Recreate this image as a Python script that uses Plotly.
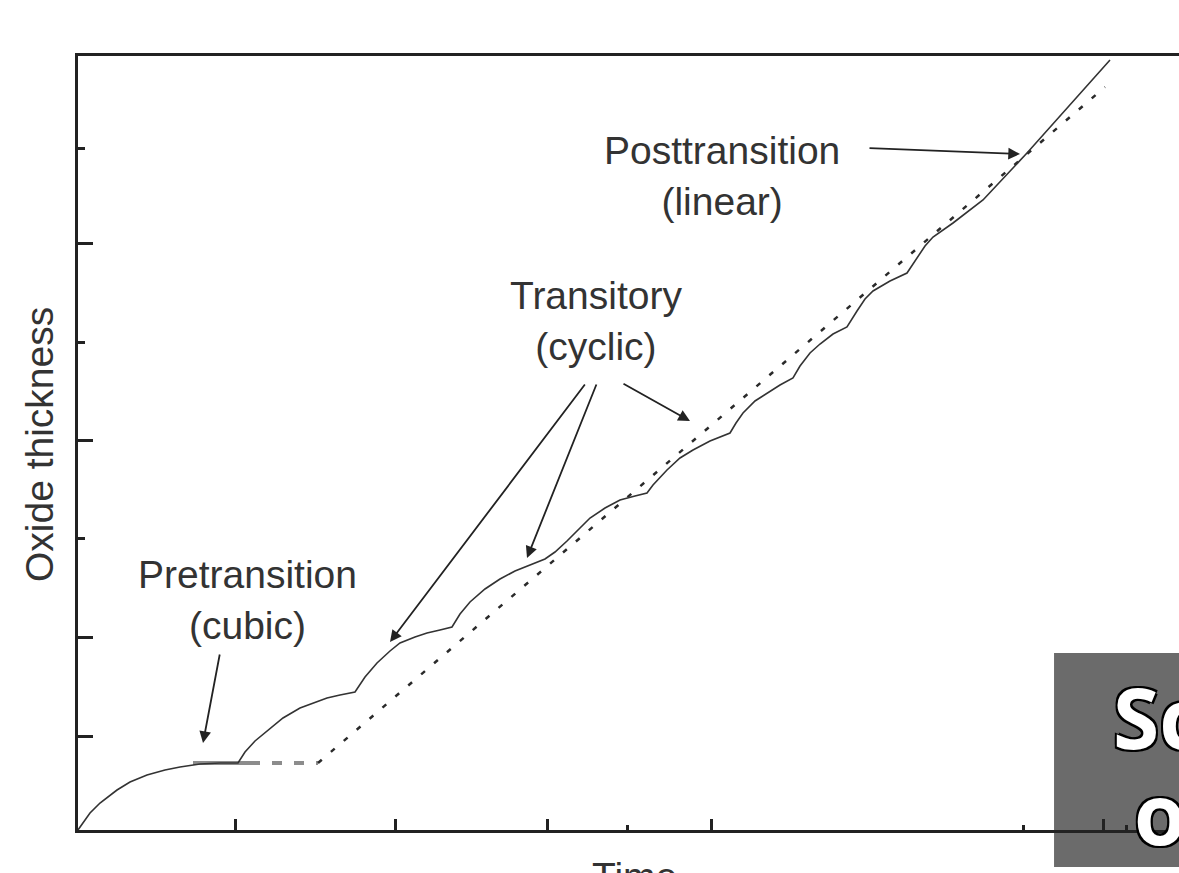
import plotly.graph_objects as go

# ---- data (time / thickness in arbitrary units) ----
curve_time = [0.00, 0.05, 0.12, 0.22, 0.39, 0.52, 0.69, 0.87, 1.02, 1.22, 1.42, 1.60,
              1.67, 1.77, 1.89, 2.05, 2.22, 2.37, 2.49, 2.62, 2.77,
              2.87, 2.99, 3.12, 3.22, 3.37, 3.49, 3.62, 3.74,
              3.82, 3.92, 4.07, 4.22, 4.37, 4.52, 4.67,
              4.77, 4.89, 5.02, 5.12, 5.27, 5.42, 5.57, 5.69,
              5.75, 5.89, 6.02, 6.15, 6.32, 6.52,
              6.58, 6.65, 6.77, 6.89, 7.02, 7.15,
              7.22, 7.32, 7.42, 7.55, 7.69,
              7.79, 7.87, 7.95, 8.12, 8.29,
              8.39, 8.47, 8.55, 8.67, 8.75,
              9.05, 9.42, 9.49, 10.32]
curve_thick = [0.00, 0.07, 0.17, 0.27, 0.40, 0.48, 0.55, 0.60, 0.63, 0.66, 0.67, 0.67,
               0.78, 0.89, 0.99, 1.12, 1.22, 1.28, 1.32, 1.35, 1.38,
               1.53, 1.67, 1.79, 1.87, 1.93, 1.97, 2.00, 2.03,
               2.16, 2.28, 2.41, 2.51, 2.59, 2.65, 2.71,
               2.78, 2.89, 3.02, 3.12, 3.22, 3.30, 3.34, 3.37,
               3.45, 3.60, 3.72, 3.80, 3.89, 3.97,
               4.07, 4.17, 4.29, 4.37, 4.45, 4.52,
               4.64, 4.77, 4.86, 4.96, 5.03,
               5.19, 5.31, 5.39, 5.49, 5.57,
               5.72, 5.84, 5.93, 6.01, 6.07,
               6.30, 6.69, 6.77, 7.70]

plateau_time = [1.15, 1.72]
plateau_thick = [0.67, 0.67]
plateau_dash_time = [1.72, 2.40]
plateau_dash_thick = [0.67, 0.67]
linear_time = [2.40, 10.27]
linear_thick = [0.67, 7.43]

x_ticks_major = [1.57, 3.17, 4.69, 6.33, 10.25]
x_ticks_minor = [5.49, 9.45, 10.48]
y_ticks_major = [5.87, 3.90, 1.93, 0.94]
y_ticks_minor = [6.82, 4.88, 2.92]

labels = ["Pretransition<br>(cubic)", "Transitory<br>(cyclic)", "Posttransition<br>(linear)"]
label_time = [1.69, 5.18, 6.44]
label_thick = [2.30, 5.09, 6.54]

arrow_tail_time = [1.42, 5.08, 5.19, 5.44, 7.90]
arrow_tail_thick = [1.77, 4.47, 4.47, 4.47, 6.82]
arrow_head_time = [1.25, 3.12, 4.49, 6.12, 9.42]
arrow_head_thick = [0.87, 1.88, 2.72, 4.09, 6.76]

x_title = "Time"
y_title = "Oxide thickness"

fig = go.Figure()
fig.add_trace(go.Scatter(x=plateau_time, y=plateau_thick, mode="lines",
                         line=dict(color="#8c8c8c", width=4), hoverinfo="skip"))
fig.add_trace(go.Scatter(x=plateau_dash_time, y=plateau_dash_thick, mode="lines",
                         line=dict(color="#8c8c8c", width=4, dash="10px,12px"), hoverinfo="skip"))
fig.add_trace(go.Scatter(x=linear_time, y=linear_thick, mode="lines",
                         line=dict(color="#2a2a2a", width=2.5, dash="5px,12px"), hoverinfo="skip"))
fig.add_trace(go.Scatter(x=curve_time, y=curve_thick, mode="lines",
                         line=dict(color="#333333", width=1.6), hoverinfo="skip"))

txtfont = dict(family="Liberation Sans, Arial, sans-serif", size=39, color="#333333")
for t, x, y in zip(labels, label_time, label_thick):
    fig.add_annotation(x=x, y=y, text=t, showarrow=False, font=txtfont,
                       xanchor="center", yanchor="middle")

for tx, ty, hx, hy in zip(arrow_tail_time, arrow_tail_thick, arrow_head_time, arrow_head_thick):
    fig.add_annotation(x=hx, y=hy, ax=tx, ay=ty, axref="x", ayref="y", text="",
                       showarrow=True, arrowhead=2, arrowsize=1.3, arrowwidth=1.8,
                       arrowcolor="#222222", standoff=0)

# axis titles (paper coordinates so they are drawn outside the plot area)
fig.add_annotation(xref="paper", yref="paper", x=-0.0354, y=0.4974, text=y_title,
                   textangle=-90, showarrow=False, font=txtfont,
                   xanchor="center", yanchor="middle")
fig.add_annotation(xref="paper", yref="paper", x=0.5059, y=-0.0607, text=x_title,
                   showarrow=False, font=txtfont, xanchor="center", yanchor="middle")

# grey overlay box
fig.add_shape(type="rect", xref="paper", yref="paper", x0=0.8865, x1=1.1, y0=-0.0478, y1=0.2287,
              fillcolor="#6b6b6b", line=dict(width=0), layer="below")
boxfont = dict(family="Open Sans, sans-serif", size=84, color="white", weight=700,
               shadow="2px 2px 0 #000, -2px -2px 0 #000, 2px -2px 0 #000, -2px 2px 0 #000")
fig.add_annotation(xref="paper", yref="paper", x=0.938, y=0.147, text="Sc", showarrow=False,
                   font=boxfont, xanchor="left", yanchor="middle")
fig.add_annotation(xref="paper", yref="paper", x=0.957, y=0.022, text="o", showarrow=False,
                   font=boxfont, xanchor="left", yanchor="middle")

axis_common = dict(showgrid=False, zeroline=False, showline=True, linewidth=3, linecolor="#222222",
                   ticks="inside", tickwidth=3, tickcolor="#222222", showticklabels=False)
fig.update_xaxes(range=[0, 11.01], tickmode="array", tickvals=x_ticks_major, ticklen=11,
                 mirror=True,
                 minor=dict(tickmode="array", tickvals=x_ticks_minor, ticks="inside",
                            ticklen=5, tickwidth=3, tickcolor="#222222"),
                 **axis_common)
fig.update_yaxes(range=[0, 7.74], tickmode="array", tickvals=y_ticks_major, ticklen=15,
                 mirror=False,
                 minor=dict(tickmode="array", tickvals=y_ticks_minor, ticks="inside",
                            ticklen=7, tickwidth=3, tickcolor="#222222"),
                 **axis_common)

fig.update_layout(width=1179, height=873, margin=dict(l=78, r=0, t=56, b=43),
                  plot_bgcolor="white", paper_bgcolor="white", showlegend=False)

fig.write_html("out.html", config={"displayModeBar": False},
               post_script="document.body.style.margin='0';document.body.style.overflow='hidden';")
